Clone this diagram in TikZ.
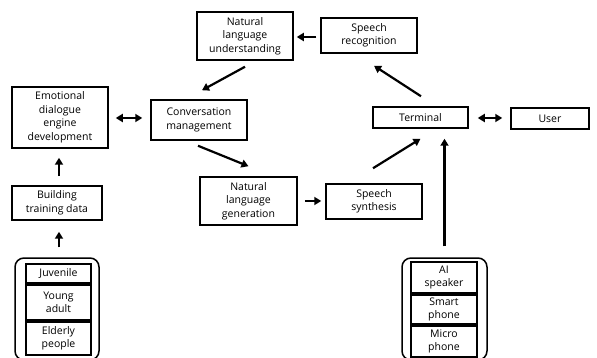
\documentclass[tikz,border=0pt]{standalone}
\usepackage{fontspec}
\setmainfont{Open Sans}
\usetikzlibrary{arrows.meta,calc}
\tikzset{
  box/.style={draw,line width=1.5pt,align=center,inner sep=0pt,font=\fontsize{10.5}{13.5}\selectfont},
  holder/.style={draw,line width=1.5pt,rounded corners=9pt,inner sep=0pt},
  arr/.style={line width=2.2pt,-{Triangle[length=7pt,width=8pt]}},
  darr/.style={line width=2.2pt,{Triangle[length=7pt,width=8pt]}-{Triangle[length=7pt,width=8pt]}}
}
\begin{document}
\begin{tikzpicture}[x=1pt,y=-1pt]
\useasboundingbox (0,0) rectangle (597,358);
% main boxes
\node[box,minimum width=96,minimum height=48] (nlu) at (245,36) {Natural\\language\\understanding};
\node[box,minimum width=96,minimum height=35] (sr) at (369,35.5) {Speech\\recognition};
\node[box,minimum width=96,minimum height=61] (ede) at (60,117.5) {Emotional\\dialogue\\engine\\development};
\node[box,minimum width=96,minimum height=40] (cm) at (199,120) {Conversation\\management};
\node[box,minimum width=95,minimum height=21] (term) at (420.5,117.5) {Terminal};
\node[box,minimum width=78,minimum height=21] (user) at (550,118.5) {User};
\node[box,minimum width=90,minimum height=34] (btd) at (57,203) {Building\\training data};
\node[box,minimum width=97,minimum height=48] (nlg) at (248.5,201) {Natural\\language\\generation};
\node[box,minimum width=96,minimum height=35] (ss) at (374,201.5) {Speech\\synthesis};
% left holder
\node[holder,minimum width=84,minimum height=102] (lc) at (57,309) {};
\node[box,minimum width=65,minimum height=19] (juv) at (58.5,273.5) {Juvenile};
\node[box,minimum width=65,minimum height=35] (ya) at (58.5,302.5) {Young\\adult};
\node[box,minimum width=65,minimum height=33] (eld) at (58.5,338.5) {Elderly\\people};
% right holder
\node[holder,minimum width=85,minimum height=102] (rc) at (444.5,309) {};
\node[box,minimum width=66,minimum height=31] (ai) at (444,277.5) {AI\\speaker};
\node[box,minimum width=66,minimum height=29] (sp) at (444,309.5) {Smart\\phone};
\node[box,minimum width=66,minimum height=31] (mp) at (444,341.5) {Micro\\phone};
% connectors
\draw[arr] ([shift={(-4,1.5)}]sr.west) -- ([shift={(3,1)}]nlu.east);
\draw[arr] ([shift={(0,6)}]nlu.south) -- ([shift={(3,-9)}]cm.north);
\draw[darr] ([shift={(7,0.5)}]ede.east) -- ([shift={(-8,-2)}]cm.west);
\draw[arr] ([shift={(-1,5)}]cm.south) -- ([shift={(0,-10)}]nlg.north);
\draw[arr] ([shift={(7,0)}]nlg.east) -- ([shift={(-4,-0.5)}]ss.west);
\draw[arr] ([shift={(-1,-15)}]ss.north) -- ([shift={(0,10)}]term.south);
\draw[arr] ([shift={(0.5,-10)}]term.north) -- ([shift={(5,12)}]sr.south);
\draw[darr] ([shift={(9,0.5)}]term.east) -- ([shift={(-8,-0.5)}]user.west);
\draw[arr] ([shift={(0,-11)}]rc.north) -- ($(rc.north |- term.south)+(0,10)$);
\draw[arr] ([shift={(2,-9)}]btd.north) -- ([shift={(-1,9)}]ede.south);
\draw[arr] ([shift={(2,-10)}]lc.north) -- ([shift={(2,11)}]btd.south);
\end{tikzpicture}
\end{document}
